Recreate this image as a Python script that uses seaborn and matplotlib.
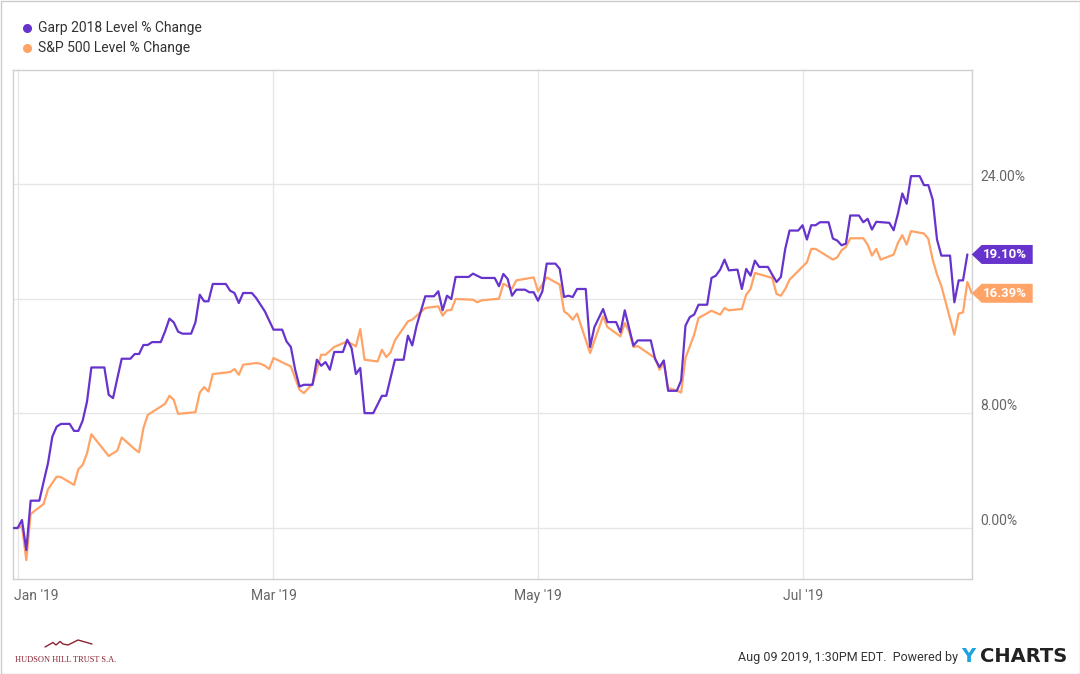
import matplotlib
matplotlib.use("Agg")
import matplotlib.pyplot as plt
import matplotlib.transforms as mtransforms
from matplotlib.patches import Polygon, Rectangle
from matplotlib.lines import Line2D
import pandas as pd
import seaborn as sns

# ---------------- data ----------------
series_names = ["Garp 2018 Level % Change", "S&P 500 Level % Change"]
series_colors = ["#6633cc", "#ffa366"]

garp_dates = [
    "2018-12-31", "2019-01-01", "2019-01-02", "2019-01-03", "2019-01-04", "2019-01-06",
    "2019-01-07", "2019-01-08", "2019-01-09", "2019-01-10", "2019-01-11", "2019-01-13",
    "2019-01-14", "2019-01-15", "2019-01-16", "2019-01-17", "2019-01-18", "2019-01-21",
    "2019-01-22", "2019-01-23", "2019-01-24", "2019-01-25", "2019-01-27", "2019-01-28",
    "2019-01-29", "2019-01-30", "2019-01-31", "2019-02-01", "2019-02-03", "2019-02-04",
    "2019-02-05", "2019-02-06", "2019-02-07", "2019-02-08", "2019-02-10", "2019-02-11",
    "2019-02-12", "2019-02-13", "2019-02-14", "2019-02-15", "2019-02-18", "2019-02-19",
    "2019-02-20", "2019-02-21", "2019-02-22", "2019-02-24", "2019-02-25", "2019-02-27",
    "2019-03-01", "2019-03-03", "2019-03-04", "2019-03-05", "2019-03-06", "2019-03-07",
    "2019-03-08", "2019-03-10", "2019-03-11", "2019-03-12", "2019-03-13", "2019-03-14",
    "2019-03-15", "2019-03-17", "2019-03-18", "2019-03-19", "2019-03-20", "2019-03-21",
    "2019-03-22", "2019-03-24", "2019-03-26", "2019-03-27", "2019-03-29", "2019-03-31",
    "2019-04-01", "2019-04-02", "2019-04-03", "2019-04-05", "2019-04-07", "2019-04-08",
    "2019-04-09", "2019-04-10", "2019-04-11", "2019-04-12", "2019-04-15", "2019-04-16",
    "2019-04-18", "2019-04-21", "2019-04-22", "2019-04-23", "2019-04-24", "2019-04-25",
    "2019-04-26", "2019-04-28", "2019-04-29", "2019-04-30", "2019-05-01", "2019-05-02",
    "2019-05-03", "2019-05-05", "2019-05-06", "2019-05-07", "2019-05-08", "2019-05-09",
    "2019-05-10", "2019-05-12", "2019-05-13", "2019-05-14", "2019-05-16", "2019-05-17",
    "2019-05-19", "2019-05-20", "2019-05-21", "2019-05-23", "2019-05-24", "2019-05-27",
    "2019-05-28", "2019-05-29", "2019-05-30", "2019-05-31", "2019-06-02", "2019-06-03",
    "2019-06-04", "2019-06-05", "2019-06-06", "2019-06-07", "2019-06-09", "2019-06-10",
    "2019-06-11", "2019-06-12", "2019-06-13", "2019-06-14", "2019-06-16", "2019-06-17",
    "2019-06-18", "2019-06-19", "2019-06-20", "2019-06-21", "2019-06-23", "2019-06-24",
    "2019-06-25", "2019-06-26", "2019-06-27", "2019-06-28", "2019-06-30", "2019-07-01",
    "2019-07-02", "2019-07-03", "2019-07-04", "2019-07-05", "2019-07-07", "2019-07-08",
    "2019-07-09", "2019-07-10", "2019-07-11", "2019-07-12", "2019-07-14", "2019-07-15",
    "2019-07-16", "2019-07-17", "2019-07-18", "2019-07-21", "2019-07-22", "2019-07-23",
    "2019-07-24", "2019-07-25", "2019-07-26", "2019-07-28", "2019-07-29", "2019-07-30",
    "2019-07-31", "2019-08-01", "2019-08-02", "2019-08-04", "2019-08-05", "2019-08-06",
    "2019-08-07", "2019-08-08",
]
garp_values = [
    0.00, 0.00, 0.56, -1.54, 1.91, 1.91,
    3.24, 4.52, 6.38, 7.08, 7.27, 7.27,
    6.78, 6.78, 7.50, 8.83, 11.21, 11.21,
    9.30, 9.07, 10.47, 11.82, 11.82, 12.15,
    12.15, 12.78, 12.78, 12.98, 12.98, 13.73,
    14.62, 14.36, 13.71, 13.57, 13.57, 14.36,
    16.29, 15.83, 15.83, 17.04, 17.04, 16.57,
    16.41, 15.71, 16.41, 16.41, 16.06, 15.13,
    13.85, 13.85, 13.03, 12.64, 11.05, 9.88,
    10.00, 10.00, 11.75, 11.33, 11.59, 11.05,
    12.29, 12.29, 13.15, 12.57, 10.75, 11.17,
    8.02, 8.02, 9.23, 9.23, 11.75, 11.75,
    13.43, 12.75, 14.13, 16.18, 16.18, 16.53,
    15.20, 16.22, 15.99, 17.53, 17.53, 17.76,
    17.46, 17.46, 16.88, 17.74, 17.39, 16.22,
    16.64, 16.64, 16.46, 16.46, 15.87, 16.53,
    18.46, 18.46, 18.09, 16.13, 16.22, 16.13,
    16.69, 16.69, 12.64, 14.03, 15.29, 14.38,
    14.38, 13.66, 15.20, 12.73, 13.10, 13.10,
    11.80, 11.24, 11.70, 9.58, 9.58, 10.30,
    14.13, 14.73, 14.90, 15.59, 15.59, 17.46,
    17.62, 18.04, 18.74, 17.99, 18.04, 16.69,
    18.09, 17.62, 18.67, 18.23, 18.23, 17.69,
    17.18, 17.53, 19.49, 20.77, 20.77, 21.14,
    20.14, 21.14, 21.14, 21.35, 21.35, 20.21,
    20.07, 19.74, 19.86, 21.82, 21.82, 21.35,
    21.59, 20.84, 21.38, 21.31, 20.79, 21.96,
    23.36, 22.64, 24.57, 24.57, 23.94, 23.94,
    22.94, 20.14, 19.02, 19.02, 15.76, 17.29,
    17.29, 19.10,
]

sp_dates = [
    "2018-12-31", "2019-01-01", "2019-01-02", "2019-01-03", "2019-01-04", "2019-01-07",
    "2019-01-08", "2019-01-10", "2019-01-11", "2019-01-14", "2019-01-15", "2019-01-16",
    "2019-01-17", "2019-01-18", "2019-01-22", "2019-01-24", "2019-01-25", "2019-01-28",
    "2019-01-29", "2019-01-30", "2019-01-31", "2019-02-01", "2019-02-04", "2019-02-05",
    "2019-02-06", "2019-02-07", "2019-02-11", "2019-02-12", "2019-02-13", "2019-02-14",
    "2019-02-15", "2019-02-19", "2019-02-20", "2019-02-21", "2019-02-22", "2019-02-25",
    "2019-02-26", "2019-02-27", "2019-02-28", "2019-03-01", "2019-03-05", "2019-03-07",
    "2019-03-08", "2019-03-10", "2019-03-11", "2019-03-12", "2019-03-13", "2019-03-15",
    "2019-03-18", "2019-03-20", "2019-03-21", "2019-03-22", "2019-03-25", "2019-03-26",
    "2019-03-27", "2019-03-28", "2019-03-29", "2019-04-01", "2019-04-02", "2019-04-05",
    "2019-04-08", "2019-04-09", "2019-04-10", "2019-04-11", "2019-04-12", "2019-04-16",
    "2019-04-17", "2019-04-18", "2019-04-22", "2019-04-23", "2019-04-25", "2019-04-26",
    "2019-04-30", "2019-05-01", "2019-05-03", "2019-05-06", "2019-05-07", "2019-05-08",
    "2019-05-09", "2019-05-10", "2019-05-13", "2019-05-16", "2019-05-17", "2019-05-20",
    "2019-05-21", "2019-05-22", "2019-05-23", "2019-05-24", "2019-05-28", "2019-05-29",
    "2019-05-30", "2019-05-31", "2019-06-02", "2019-06-03", "2019-06-04", "2019-06-06",
    "2019-06-07", "2019-06-10", "2019-06-12", "2019-06-13", "2019-06-14", "2019-06-17",
    "2019-06-18", "2019-06-19", "2019-06-20", "2019-06-24", "2019-06-25", "2019-06-26",
    "2019-06-27", "2019-06-28", "2019-07-02", "2019-07-03", "2019-07-04", "2019-07-08",
    "2019-07-09", "2019-07-10", "2019-07-11", "2019-07-12", "2019-07-15", "2019-07-16",
    "2019-07-17", "2019-07-18", "2019-07-19", "2019-07-22", "2019-07-23", "2019-07-24",
    "2019-07-25", "2019-07-26", "2019-07-29", "2019-07-30", "2019-07-31", "2019-08-01",
    "2019-08-02", "2019-08-05", "2019-08-06", "2019-08-07", "2019-08-08", "2019-08-09",
]
sp_values = [
    0.00, 0.00, 0.13, -2.24, 0.98, 1.68,
    2.70, 3.59, 3.55, 3.01, 4.10, 4.41,
    5.22, 6.55, 5.03, 5.41, 6.32, 5.50,
    5.29, 6.97, 7.90, 8.09, 8.67, 9.23,
    8.95, 7.97, 8.09, 9.46, 9.84, 9.53,
    10.75, 10.89, 11.10, 10.70, 11.40, 11.52,
    11.47, 11.33, 11.10, 11.87, 11.28, 9.65,
    9.42, 10.07, 11.05, 12.10, 12.10, 12.64,
    13.03, 12.68, 13.89, 11.75, 11.63, 12.45,
    11.94, 12.26, 13.10, 14.43, 14.55, 15.36,
    15.48, 14.83, 15.20, 15.22, 15.99, 15.94,
    15.76, 15.90, 16.01, 17.06, 16.71, 17.29,
    17.50, 16.53, 17.50, 16.99, 15.13, 14.90,
    14.55, 14.97, 12.22, 14.78, 14.03, 13.38,
    14.31, 13.73, 12.64, 12.70, 11.87, 11.05,
    11.52, 9.77, 9.60, 9.46, 11.87, 13.50,
    14.66, 15.17, 14.90, 15.36, 15.20, 15.29,
    16.29, 16.69, 17.81, 17.46, 16.34, 16.22,
    16.69, 17.34, 18.55, 19.49, 19.49, 18.74,
    18.90, 19.39, 19.63, 20.23, 20.23, 19.79,
    19.02, 19.49, 18.74, 19.09, 19.91, 20.45,
    19.79, 20.73, 20.56, 20.19, 18.74, 17.70,
    16.90, 13.50, 14.97, 15.06, 17.18, 16.39,
]

x_tick_dates = ["2019-01-01", "2019-03-01", "2019-05-01", "2019-07-01"]
x_tick_labels = ["Jan '19", "Mar '19", "May '19", "Jul '19"]
y_ticks = [0, 8, 16, 24]
# the 16.00% label is hidden under the S&P end tag in the reference
y_tick_labels = ["0.00%", "8.00%", "", "24.00%"]
x_range = ["2018-12-31", "2019-08-09"]
y_range = [-3.56, 31.98]

# ---------------- style ----------------
sns.set_theme(style="white")
plt.rcParams["font.family"] = ["Roboto", "DejaVu Sans"]

W, H = 1080, 674
fig = plt.figure(figsize=(W / 100, H / 100), dpi=100)
fig.patch.set_facecolor("white")

ax_l, ax_r, ax_t, ax_b = 13.3, 971.7, 70, 579
ax = fig.add_axes([ax_l / W, 1 - ax_b / H, (ax_r - ax_l) / W, (ax_b - ax_t) / H])

df = pd.concat([
    pd.DataFrame({"date": pd.to_datetime(sp_dates), "value": sp_values, "series": series_names[1]}),
    pd.DataFrame({"date": pd.to_datetime(garp_dates), "value": garp_values, "series": series_names[0]}),
], ignore_index=True)

palette = dict(zip(series_names, series_colors))
sns.lineplot(data=df, x="date", y="value", hue="series",
             hue_order=[series_names[1], series_names[0]],
             palette=palette, estimator=None, errorbar=None,
             linewidth=1.6, legend=False, ax=ax, zorder=3)

ax.set_xlim(pd.Timestamp(x_range[0]), pd.Timestamp(x_range[1]))
ax.set_ylim(*y_range)
ax.set_xlabel("")
ax.set_ylabel("")

ax.set_xticks(pd.to_datetime(x_tick_dates))
ax.set_xticklabels(x_tick_labels)
ax.yaxis.tick_right()
ax.set_yticks(y_ticks)
ax.set_yticklabels(y_tick_labels)

ax.grid(True, color="#e6e6e6", linewidth=1)
ax.set_axisbelow(True)
for sp in ax.spines.values():
    sp.set_visible(True)
    sp.set_color("#d0d0d0")
    sp.set_linewidth(1)

ax.tick_params(axis="x", length=0, pad=7, labelsize=10, labelcolor="#666666")
ax.tick_params(axis="y", length=0, pad=6, labelsize=10, labelcolor="#666666")
for lab in ax.get_yticklabels():
    lab.set_verticalalignment("bottom")
    lab.set_horizontalalignment("left")
first = ax.get_xticklabels()[0]
first.set_horizontalalignment("left")
first.set_transform(first.get_transform() +
                    mtransforms.ScaledTranslation(-3.4 / 100, 0, fig.dpi_scale_trans))

# ---------------- end-value tags ----------------
blend = mtransforms.blended_transform_factory(ax.transAxes, ax.transData)
last_vals = [garp_values[-1], sp_values[-1]]
for val, col in zip(last_vals, series_colors):
    tr = mtransforms.Affine2D() + mtransforms.ScaledTranslation(1, val, blend)
    verts = [(0, 0), (10, 9.5), (61, 9.5), (61, -9.5), (10, -9.5)]
    poly = Polygon(verts, closed=True, transform=tr, facecolor=col,
                   edgecolor="none", clip_on=False, zorder=10)
    ax.add_artist(poly)
    ax.text(1, val, f"{val:.2f}%",
            transform=blend + mtransforms.ScaledTranslation(11.5 / 100, 0, fig.dpi_scale_trans),
            ha="left", va="center", color="white", fontsize=9.5,
            fontweight="bold", zorder=11, clip_on=False)

# ---------------- legend ----------------
for i, (name, col) in enumerate(zip(series_names, series_colors)):
    yy = 1 - (28 + 20 * i) / H
    fig.add_artist(Line2D([27 / W], [yy], marker="o", markersize=5.5,
                          color=col, linestyle="none", transform=fig.transFigure))
    fig.text(38 / W, yy, name, ha="left", va="center", fontsize=10, color="#333333")

# ---------------- footer ----------------
fy = 1 - 657 / H
fig.text(958 / W, fy, "Aug 09 2019, 1:30PM EDT.  Powered by", ha="right", va="center",
         fontsize=9, color="#333333")
fig.text(961 / W, fy, "Y", ha="left", va="center", fontsize=14, fontweight="bold",
         color="#1aa3e0", family="DejaVu Sans")
fig.text(980 / W, fy, "CHARTS", ha="left", va="center", fontsize=14, fontweight="bold",
         color="#222222", family="DejaVu Sans")

# logo
mx = [45, 53, 56, 60, 63, 68, 78, 92]
my = [647, 642.5, 645, 641.5, 644, 645, 640, 644]
fig.add_artist(Line2D([x / W for x in mx], [1 - y / H for y in my], color="#8b2232",
                      linewidth=1.0, transform=fig.transFigure))
fig.text(15 / W, 1 - 659.5 / H, "HUDSON HILL TRUST S.A.", ha="left", va="center",
         fontsize=6, color="#8b2232", family="Liberation Serif")

# outer frame
fig.add_artist(Rectangle((0.5 / W, 0.5 / H), 1 - 1 / W, 1 - 1 / H, transform=fig.transFigure,
                         fill=False, edgecolor="#cccccc", linewidth=1))

fig.savefig("out.png", dpi=100, facecolor="white")
